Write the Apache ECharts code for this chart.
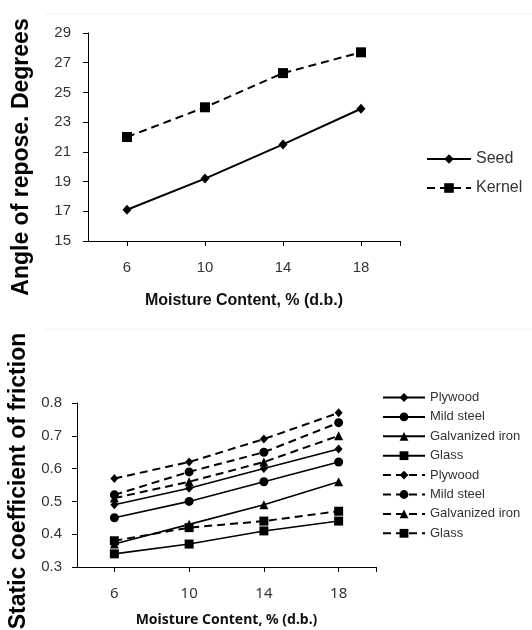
<!DOCTYPE html>
<html>
<head>
<meta charset="utf-8">
<script src="https://cdn.jsdelivr.net/npm/echarts@6.0.0/dist/echarts.min.js"></script>
<style>
  html, body { margin: 0; padding: 0; background: #fff; }
  #main { width: 532px; height: 630px; }
</style>
</head>
<body>
<div id="main"></div>
<script>
// moisture content, % (d.b.)
const moisture = [6, 10, 14, 18];

// angle of repose, degrees
const seedAngle = [17.1, 19.2, 21.5, 23.9];
const kernelAngle = [22.0, 24.0, 26.3, 27.7];

// static coefficient of friction (solid = seed, dashed = kernel)
const materials = ['Plywood', 'Mild steel', 'Galvanized iron', 'Glass'];
const seedPlywood = [0.49, 0.54, 0.60, 0.66];
const seedMildSteel = [0.45, 0.50, 0.56, 0.62];
const seedGalvIron = [0.37, 0.43, 0.49, 0.56];
const seedGlass = [0.34, 0.37, 0.41, 0.44];
const kernelPlywood = [0.57, 0.62, 0.69, 0.77];
const kernelMildSteel = [0.52, 0.59, 0.65, 0.74];
const kernelGalvIron = [0.51, 0.56, 0.62, 0.70];
const kernelGlass = [0.38, 0.42, 0.44, 0.47];

const xTicks = [6, 10, 14, 18];

const pairs = (vals) => moisture.map((m, i) => [m, vals[i]]);

const symbolFor = { 'Plywood': 'diamond', 'Mild steel': 'circle', 'Galvanized iron': 'triangle', 'Glass': 'rect' };
const sizeFor = { 'Plywood': [8, 9], 'Mild steel': 9, 'Galvanized iron': 9, 'Glass': 9 };

const lineSeries = (name, vals, dashed, idx, width, symbol, size) => {
    return {
        name: name,
        type: 'line',
        xAxisIndex: idx,
        yAxisIndex: idx,
        data: pairs(vals),
        symbol: symbol,
        symbolSize: size,
        showAllSymbol: true,
        color: '#000',
        lineStyle: { color: '#000', width: width, type: dashed ? [8, 5] : 'solid' },
        itemStyle: { color: '#000' },
        animation: false
    };
};

const xAxisFor = (idx, nameFont, nameSize, nameGap, labelFont, labelSize) => {
    return {
        type: 'value',
        gridIndex: idx,
        min: 4,
        max: 20,
        name: 'Moisture Content, % (d.b.)',
        nameLocation: 'middle',
        nameGap: nameGap,
        nameTextStyle: { fontFamily: nameFont, fontWeight: 'bold', fontSize: nameSize, color: '#111' },
        axisLine: { onZero: false, lineStyle: { color: '#000', width: 1 } },
        axisTick: { show: true, length: 5, inside: false, customValues: [6, 10, 14, 18, 20], lineStyle: { color: '#000' } },
        axisLabel: { customValues: xTicks, margin: 19, fontFamily: labelFont, fontSize: labelSize, color: '#333' },
        splitLine: { show: false }
    };
};

let option = {
    backgroundColor: '#fff',
    animation: false,
    grid: [
        { left: 88, top: 33, width: 312, height: 208, outerBoundsMode: 'none' },
        { left: 77, top: 403, width: 299, height: 164, outerBoundsMode: 'none' }
    ],
    xAxis: [
        xAxisFor(0, 'Liberation Sans', 16, 52, 'Liberation Sans', 15),
        xAxisFor(1, 'Noto Sans', 14, 46, 'Noto Sans', 15)
    ],
    yAxis: [
        {
            type: 'value',
            gridIndex: 0,
            min: 15,
            max: 29,
            interval: 2,
            name: 'Angle of repose. Degrees',
            nameLocation: 'middle',
            nameRotate: 90,
            nameGap: 55,
            nameTextStyle: { fontFamily: 'Liberation Sans', fontWeight: 'bold', fontSize: 23, color: '#000', padding: [0, 40, 0, 0] },
            axisLine: { show: true, lineStyle: { color: '#000', width: 1 } },
            axisTick: { show: true, length: 5, lineStyle: { color: '#000' } },
            axisLabel: { margin: 17, fontFamily: 'Liberation Sans', fontSize: 15, color: '#333' },
            splitLine: { show: false }
        },
        {
            type: 'value',
            gridIndex: 1,
            min: 0.3,
            max: 0.8,
            interval: 0.1,
            name: 'Static coefficient of friction',
            nameLocation: 'middle',
            nameRotate: 90,
            nameGap: 45,
            nameTextStyle: { fontFamily: 'Liberation Sans', fontWeight: 'bold', fontSize: 23, color: '#000', padding: [0, 0, 0, 8] },
            axisLine: { show: true, lineStyle: { color: '#000', width: 1 } },
            axisTick: { show: true, length: 5, lineStyle: { color: '#000' } },
            axisLabel: { margin: 15, fontFamily: 'Liberation Sans', fontSize: 15, color: '#333', formatter: (v) => v.toFixed(1) },
            splitLine: { show: false }
        }
    ],
    legend: [
        {
            orient: 'vertical',
            left: 426,
            top: 151,
            padding: 0,
            itemWidth: 44,
            itemHeight: 12,
            itemGap: 13,
            data: ['Seed', 'Kernel'],
            textStyle: { fontFamily: 'Liberation Sans', fontSize: 16, lineHeight: 12, color: '#333' },
            selectedMode: false
        },
        {
            orient: 'vertical',
            left: 382,
            top: 391,
            padding: 0,
            itemWidth: 42,
            itemHeight: 11,
            itemGap: 6.4,
            // kernel names carry a trailing space so the legend keeps both sets
            data: materials.concat(materials.map((m) => m + ' ')),
            formatter: (n) => n.trim(),
            textStyle: { fontFamily: 'Liberation Sans', fontSize: 13, lineHeight: 11, color: '#333' },
            selectedMode: false
        }
    ],
    graphic: [
        { type: 'line', shape: { x1: 45, y1: 14, x2: 532, y2: 14 }, style: { stroke: '#f0f0f0', lineWidth: 1 }, silent: true },
        { type: 'line', shape: { x1: 45, y1: 329, x2: 532, y2: 329 }, style: { stroke: '#f0f0f0', lineWidth: 1 }, silent: true }
    ],
    series: []
};

option.series.push(lineSeries('Seed', seedAngle, false, 0, 2, 'diamond', [9, 10]));
option.series.push(lineSeries('Kernel', kernelAngle, true, 0, 2, 'rect', 10));

const seedFriction = [seedPlywood, seedMildSteel, seedGalvIron, seedGlass];
const kernelFriction = [kernelPlywood, kernelMildSteel, kernelGalvIron, kernelGlass];
materials.forEach((m, i) => {
    option.series.push(lineSeries(m, seedFriction[i], false, 1, 1.6, symbolFor[m], sizeFor[m]));
});
materials.forEach((m, i) => {
    option.series.push(lineSeries(m + ' ', kernelFriction[i], true, 1, 2, symbolFor[m], sizeFor[m]));
});

let myChart = echarts.init(document.getElementById('main'), null, { renderer: 'canvas' });
myChart.setOption(option);
</script>
</body>
</html>
